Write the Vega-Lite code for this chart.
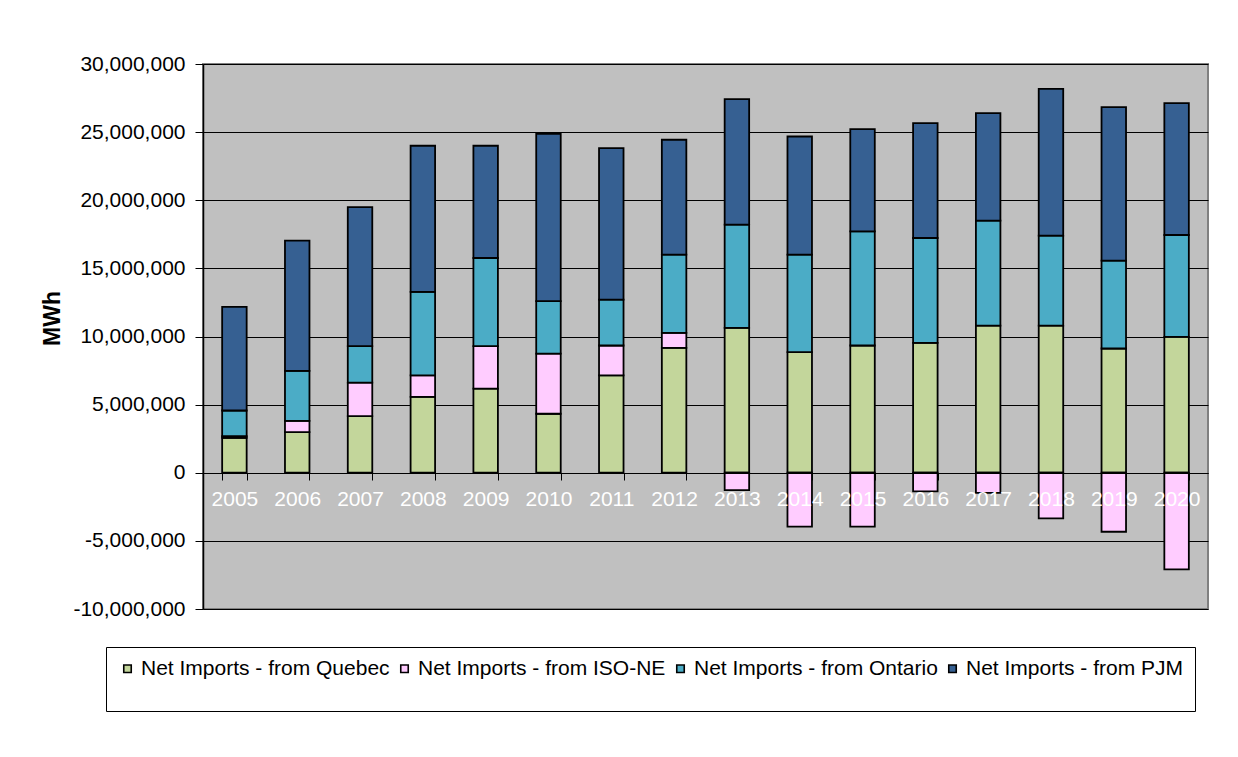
{
  "$schema": "https://vega.github.io/schema/vega-lite/v6.json",
  "width": 1005,
  "height": 545,
  "autosize": {"type": "none"},
  "padding": {"left": 203, "top": 64, "right": 30, "bottom": 148},
  "background": "white",
  "data": {
    "values": [
      {"year": "2005", "series": "Net Imports - from Quebec", "mwh": 2570000},
      {"year": "2006", "series": "Net Imports - from Quebec", "mwh": 2980000},
      {"year": "2007", "series": "Net Imports - from Quebec", "mwh": 4150000},
      {"year": "2008", "series": "Net Imports - from Quebec", "mwh": 5570000},
      {"year": "2009", "series": "Net Imports - from Quebec", "mwh": 6180000},
      {"year": "2010", "series": "Net Imports - from Quebec", "mwh": 4330000},
      {"year": "2011", "series": "Net Imports - from Quebec", "mwh": 7140000},
      {"year": "2012", "series": "Net Imports - from Quebec", "mwh": 9160000},
      {"year": "2013", "series": "Net Imports - from Quebec", "mwh": 10630000},
      {"year": "2014", "series": "Net Imports - from Quebec", "mwh": 8850000},
      {"year": "2015", "series": "Net Imports - from Quebec", "mwh": 9340000},
      {"year": "2016", "series": "Net Imports - from Quebec", "mwh": 9530000},
      {"year": "2017", "series": "Net Imports - from Quebec", "mwh": 10800000},
      {"year": "2018", "series": "Net Imports - from Quebec", "mwh": 10800000},
      {"year": "2019", "series": "Net Imports - from Quebec", "mwh": 9120000},
      {"year": "2020", "series": "Net Imports - from Quebec", "mwh": 9970000},
      {"year": "2005", "series": "Net Imports - from ISO-NE", "mwh": 120000},
      {"year": "2006", "series": "Net Imports - from ISO-NE", "mwh": 830000},
      {"year": "2007", "series": "Net Imports - from ISO-NE", "mwh": 2470000},
      {"year": "2008", "series": "Net Imports - from ISO-NE", "mwh": 1570000},
      {"year": "2009", "series": "Net Imports - from ISO-NE", "mwh": 3110000},
      {"year": "2010", "series": "Net Imports - from ISO-NE", "mwh": 4420000},
      {"year": "2011", "series": "Net Imports - from ISO-NE", "mwh": 2200000},
      {"year": "2012", "series": "Net Imports - from ISO-NE", "mwh": 1100000},
      {"year": "2013", "series": "Net Imports - from ISO-NE", "mwh": -1270000},
      {"year": "2014", "series": "Net Imports - from ISO-NE", "mwh": -3960000},
      {"year": "2015", "series": "Net Imports - from ISO-NE", "mwh": -3960000},
      {"year": "2016", "series": "Net Imports - from ISO-NE", "mwh": -1370000},
      {"year": "2017", "series": "Net Imports - from ISO-NE", "mwh": -1470000},
      {"year": "2018", "series": "Net Imports - from ISO-NE", "mwh": -3350000},
      {"year": "2019", "series": "Net Imports - from ISO-NE", "mwh": -4330000},
      {"year": "2020", "series": "Net Imports - from ISO-NE", "mwh": -7090000},
      {"year": "2005", "series": "Net Imports - from Ontario", "mwh": 1880000},
      {"year": "2006", "series": "Net Imports - from Ontario", "mwh": 3670000},
      {"year": "2007", "series": "Net Imports - from Ontario", "mwh": 2670000},
      {"year": "2008", "series": "Net Imports - from Ontario", "mwh": 6130000},
      {"year": "2009", "series": "Net Imports - from Ontario", "mwh": 6470000},
      {"year": "2010", "series": "Net Imports - from Ontario", "mwh": 3840000},
      {"year": "2011", "series": "Net Imports - from Ontario", "mwh": 3370000},
      {"year": "2012", "series": "Net Imports - from Ontario", "mwh": 5750000},
      {"year": "2013", "series": "Net Imports - from Ontario", "mwh": 7580000},
      {"year": "2014", "series": "Net Imports - from Ontario", "mwh": 7160000},
      {"year": "2015", "series": "Net Imports - from Ontario", "mwh": 8380000},
      {"year": "2016", "series": "Net Imports - from Ontario", "mwh": 7700000},
      {"year": "2017", "series": "Net Imports - from Ontario", "mwh": 7700000},
      {"year": "2018", "series": "Net Imports - from Ontario", "mwh": 6600000},
      {"year": "2019", "series": "Net Imports - from Ontario", "mwh": 6450000},
      {"year": "2020", "series": "Net Imports - from Ontario", "mwh": 7480000},
      {"year": "2005", "series": "Net Imports - from PJM", "mwh": 7600000},
      {"year": "2006", "series": "Net Imports - from PJM", "mwh": 9550000},
      {"year": "2007", "series": "Net Imports - from PJM", "mwh": 10210000},
      {"year": "2008", "series": "Net Imports - from PJM", "mwh": 10730000},
      {"year": "2009", "series": "Net Imports - from PJM", "mwh": 8240000},
      {"year": "2010", "series": "Net Imports - from PJM", "mwh": 12290000},
      {"year": "2011", "series": "Net Imports - from PJM", "mwh": 11120000},
      {"year": "2012", "series": "Net Imports - from PJM", "mwh": 8430000},
      {"year": "2013", "series": "Net Imports - from PJM", "mwh": 9210000},
      {"year": "2014", "series": "Net Imports - from PJM", "mwh": 8670000},
      {"year": "2015", "series": "Net Imports - from PJM", "mwh": 7500000},
      {"year": "2016", "series": "Net Imports - from PJM", "mwh": 8430000},
      {"year": "2017", "series": "Net Imports - from PJM", "mwh": 7890000},
      {"year": "2018", "series": "Net Imports - from PJM", "mwh": 10780000},
      {"year": "2019", "series": "Net Imports - from PJM", "mwh": 11260000},
      {"year": "2020", "series": "Net Imports - from PJM", "mwh": 9680000}
    ]
  },
  "transform": [
    {"calculate": "indexof(['Net Imports - from Quebec', 'Net Imports - from ISO-NE', 'Net Imports - from Ontario', 'Net Imports - from PJM'], datum.series)", "as": "stackOrder"}
  ],
  "mark": {"type": "bar", "stroke": "black", "strokeWidth": 1.8},
  "encoding": {
    "x": {
      "field": "year",
      "type": "ordinal",
      "scale": {"paddingInner": 0.61, "paddingOuter": 0.305},
      "axis": {
        "title": null,
        "orient": "bottom",
        "offset": -136,
        "labelAngle": 0,
        "labelColor": "white",
        "labelFontSize": 21,
        "labelPadding": 8,
        "tickBand": "extent",
        "tickSize": 7,
        "tickColor": "black",
        "tickWidth": 1,
        "domainColor": "black",
        "domainWidth": 1,
        "grid": false,
        "zindex": 1
      }
    },
    "y": {
      "field": "mwh",
      "type": "quantitative",
      "stack": "zero",
      "scale": {"domain": [-10000000, 30000000], "nice": false},
      "axis": {
        "values": [-10000000, -5000000, 0, 5000000, 10000000, 15000000, 20000000, 25000000, 30000000],
        "labelExpr": "(datum.value < 0 ? '-' : '') + format(abs(datum.value), ',')",
        "labelFontSize": 21,
        "labelColor": "black",
        "labelPadding": 10,
        "tickSize": 8,
        "tickColor": "black",
        "domainColor": "black",
        "domainWidth": 1.5,
        "grid": true,
        "gridColor": "black",
        "gridWidth": 1,
        "gridOpacity": 1,
        "title": "MWh",
        "titleFontSize": 23,
        "titleFontWeight": "bold",
        "titleColor": "black",
        "titlePadding": 8,
        "titleY": 254
      }
    },
    "order": {"field": "stackOrder", "type": "quantitative", "sort": "ascending"},
    "color": {
      "field": "series",
      "type": "nominal",
      "sort": ["Net Imports - from Quebec", "Net Imports - from ISO-NE", "Net Imports - from Ontario", "Net Imports - from PJM"],
      "scale": {
        "domain": ["Net Imports - from Quebec", "Net Imports - from ISO-NE", "Net Imports - from Ontario", "Net Imports - from PJM"],
        "range": ["#C3D69B", "#FFCCFF", "#4BACC6", "#366092"]
      },
      "legend": {
        "orient": "none",
        "legendX": -97,
        "legendY": 583,
        "direction": "horizontal",
        "title": " ",
        "titleOrient": "bottom",
        "titleFontSize": 16,
        "titlePadding": 5,
        "strokeColor": "black",
        "fillColor": "white",
        "padding": 11,
        "symbolType": "square",
        "symbolSize": 56,
        "symbolStrokeColor": "black",
        "symbolStrokeWidth": 1.6,
        "symbolOpacity": 1,
        "labelFontSize": 21,
        "labelColor": "black",
        "labelOffset": 3,
        "columnPadding": 4,
        "labelLimit": 400
      }
    }
  },
  "config": {
    "font": "Liberation Sans",
    "view": {"fill": "#C0C0C0", "stroke": "#808080", "strokeWidth": 2}
  }
}
